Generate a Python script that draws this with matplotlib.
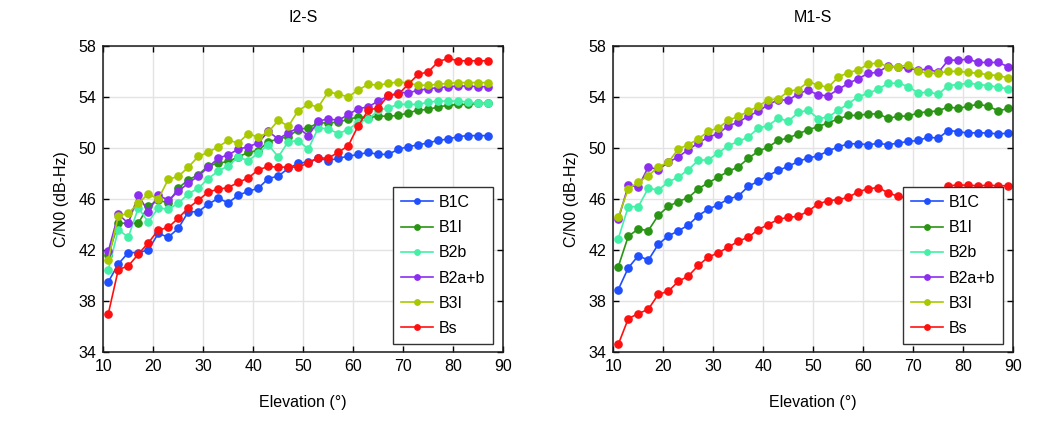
import matplotlib
matplotlib.use("Agg")
import matplotlib.pyplot as plt

plt.rcParams['font.family'] = ['Liberation Sans', 'DejaVu Sans']

labels = ["B1C", "B1I", "B2b", "B2a+b", "B3I", "Bs"]
colors = ["#1F4FFF", "#2A9414", "#44F0A8", "#8C2EF0", "#A8C800", "#FF1010"]

# I2-S
elev_i2 = list(range(11, 89, 2))
i2_b1c = [39.5, 40.9, 41.8, 41.8, 42.0, 43.3, 43.0, 43.7, 45.0, 45.0, 45.6, 46.05, 45.7, 46.3, 46.6,
          46.85, 47.6, 47.8, 48.4, 48.8, 48.9, 49.2, 49.0, 49.2, 49.35, 49.5, 49.65, 49.5, 49.5, 49.9,
          50.1, 50.25, 50.4, 50.6, 50.7, 50.9, 50.97, 50.97, 50.97]
i2_b1i = [41.6, 44.1, 44.1, 44.1, 45.45, 45.9, 45.7, 46.85, 47.5, 47.9, 48.6, 48.8, 48.95, 49.3, 49.66,
          49.8, 50.5, 50.7, 50.9, 51.45, 51.58, 51.97, 51.97, 52.03, 52.24, 52.45, 52.37, 52.5, 52.5, 52.55,
          52.76, 52.97, 53.02, 53.23, 53.34, 53.42, 53.42, 53.5, 53.5]
i2_b2b = [40.45, 43.6, 43.0, 45.3, 44.2, 45.3, 45.2, 45.66, 46.4, 46.85, 47.6, 48.2, 48.6, 49.3, 49.0,
          49.6, 50.26, 49.3, 50.5, 50.58, 49.92, 51.58, 51.5, 51.13, 51.45, 52.03, 52.24, 52.97, 53.15, 53.42,
          53.42, 53.42, 53.6, 53.68, 53.68, 53.68, 53.6, 53.5, 53.5]
i2_b2ab = [41.9, 44.8, 44.1, 46.3, 45.0, 46.3, 45.9, 46.6, 47.24, 47.8, 48.5, 49.2, 49.47, 49.9, 50.1,
           50.4, 51.3, 50.7, 51.2, 51.58, 50.97, 52.1, 52.29, 52.16, 52.63, 53.08, 53.23, 53.68, 54.08, 54.34,
           54.34, 54.52, 54.65, 54.73, 54.81, 54.86, 54.86, 54.81, 54.81]
i2_b3i = [41.25, 44.66, 44.88, 45.66, 46.4, 46.0, 47.55, 47.77, 48.5, 49.34, 49.66, 50.1, 50.6, 50.4, 51.13,
          50.84, 51.24, 52.18, 51.7, 52.94, 53.42, 53.21, 54.42, 54.21, 54.02, 54.55, 55.0, 54.92, 55.07, 55.18,
          55.1, 54.92, 54.92, 55.0, 55.07, 55.13, 55.13, 55.13, 55.13]
i2_bs = [37.0, 40.46, 40.75, 41.67, 42.56, 43.56, 43.77, 44.5, 45.3, 45.9, 46.55, 46.77, 46.9, 47.3, 47.65,
         48.29, 48.55, 48.5, 48.5, 48.5, 48.82, 49.21, 49.21, 49.66, 50.18, 51.76, 52.97, 53.15, 54.13, 54.21,
         55.0, 55.78, 55.97, 56.78, 57.02, 56.84, 56.84, 56.84, 56.84]

# M1-S
elev_m1 = list(range(11, 91, 2))
m1_b1c = [38.9, 40.6, 41.55, 41.2, 42.45, 43.1, 43.5, 43.95, 44.7, 45.2, 45.55, 46.0, 46.23, 46.99, 47.4,
          47.83, 48.25, 48.56, 48.95, 49.22, 49.38, 49.78, 50.08, 50.33, 50.33, 50.26, 50.36, 50.26, 50.39, 50.51,
          50.59, 50.85, 50.77, 51.37, 51.29, 51.16, 51.21, 51.16, 51.11, 51.16]
m1_b1i = [40.7, 43.08, 43.65, 43.52, 44.72, 45.42, 45.8, 46.1, 46.8, 47.27, 47.72, 48.17, 48.51, 49.19, 49.74,
          50.08, 50.6, 50.78, 51.12, 51.43, 51.68, 51.98, 52.28, 52.55, 52.56, 52.67, 52.67, 52.32, 52.5, 52.5,
          52.76, 52.84, 52.91, 53.23, 53.1, 53.28, 53.43, 53.28, 52.91, 53.1]
m1_b2b = [42.9, 45.4, 45.4, 46.85, 46.7, 47.33, 47.72, 48.3, 49.03, 49.08, 49.61, 50.18, 50.52, 50.85, 51.57,
          51.75, 52.35, 52.09, 52.8, 52.96, 52.3, 52.44, 52.96, 53.48, 54.02, 54.29, 54.62, 55.08, 55.08, 54.82,
          54.31, 54.39, 54.21, 54.9, 54.98, 55.08, 54.98, 54.9, 54.77, 54.64]
m1_b2ab = [44.4, 47.07, 46.94, 48.51, 48.3, 48.88, 49.3, 49.87, 50.39, 50.86, 51.12, 51.75, 52.01, 52.5, 52.88,
           53.4, 53.79, 53.74, 54.26, 54.55, 54.15, 54.1, 54.6, 55.06, 55.45, 55.85, 55.95, 56.45, 56.32, 56.27,
           56.11, 56.19, 55.93, 56.89, 56.89, 56.97, 56.71, 56.71, 56.71, 56.37]
m1_b3i = [44.6, 46.8, 47.31, 47.83, 48.51, 48.88, 49.92, 50.26, 50.71, 51.31, 51.57, 52.17, 52.48, 52.88, 53.27,
          53.79, 53.84, 54.45, 54.58, 55.2, 54.93, 54.75, 55.58, 55.9, 56.13, 56.57, 56.67, 56.37, 56.37, 56.53,
          56.01, 55.86, 55.86, 56.01, 56.01, 55.93, 55.86, 55.75, 55.68, 55.5]
m1_bs = [34.6, 36.62, 37.01, 37.35, 38.52, 38.76, 39.54, 39.95, 40.79, 41.44, 41.78, 42.22, 42.69, 43.0, 43.6,
         44.0, 44.4, 44.57, 44.64, 45.06, 45.61, 45.87, 45.95, 46.13, 46.57, 46.8, 46.9, 46.47, 46.21, 46.0,
         46.1, 46.3, 46.4, 47.04, 47.1, 47.08, 47.04, 47.08, 47.04, 47.04]

xticks = [10, 20, 30, 40, 50, 60, 70, 80, 90]
yticks = [34, 38, 42, 46, 50, 54, 58]

panels = [
    ("I2-S", elev_i2, [i2_b1c, i2_b1i, i2_b2b, i2_b2ab, i2_b3i, i2_bs]),
    ("M1-S", elev_m1, [m1_b1c, m1_b1i, m1_b2b, m1_b2ab, m1_b3i, m1_bs]),
]

fig = plt.figure(figsize=(10.57, 4.30), dpi=100)
lefts = [103.3 / 1057, 613.3 / 1057]
FS = 11.5
for (title, xs, series), left in zip(panels, lefts):
    ax = fig.add_axes([left, 1 - 352 / 430, 400 / 1057, 306 / 430])
    for ys, lab, col in zip(series, labels, colors):
        ax.plot(xs, ys, '-o', color=col, lw=1.2, ms=5.2, label=lab)
    ax.set_xlim(10, 90)
    ax.set_ylim(34, 58)
    ax.set_xticks(xticks)
    ax.set_yticks(yticks)
    ax.grid(True, color='#E3E3E3', lw=1.0)
    ax.set_axisbelow(True)
    ax.tick_params(direction='in', top=True, right=True, length=4, width=1,
                   labelsize=FS, pad=5)
    for s in ax.spines.values():
        s.set_linewidth(1.1)
        s.set_color('#1a1a1a')
    ax.set_title(title, fontsize=FS, pad=17)
    ax.set_xlabel("Elevation (°)", fontsize=FS, labelpad=15)
    ax.set_ylabel("C/N0 (dB-Hz)", fontsize=FS, labelpad=7)
    leg = ax.legend(loc='lower right', bbox_to_anchor=(0.975, 0.026), borderaxespad=0,
                    fontsize=FS, fancybox=False, framealpha=1, edgecolor='#333333',
                    handlelength=2.0, handletextpad=0.35, labelspacing=0.64,
                    borderpad=0.5, markerscale=0.75)
    leg.get_frame().set_linewidth(1.0)

fig.savefig("out.png", dpi=100)
